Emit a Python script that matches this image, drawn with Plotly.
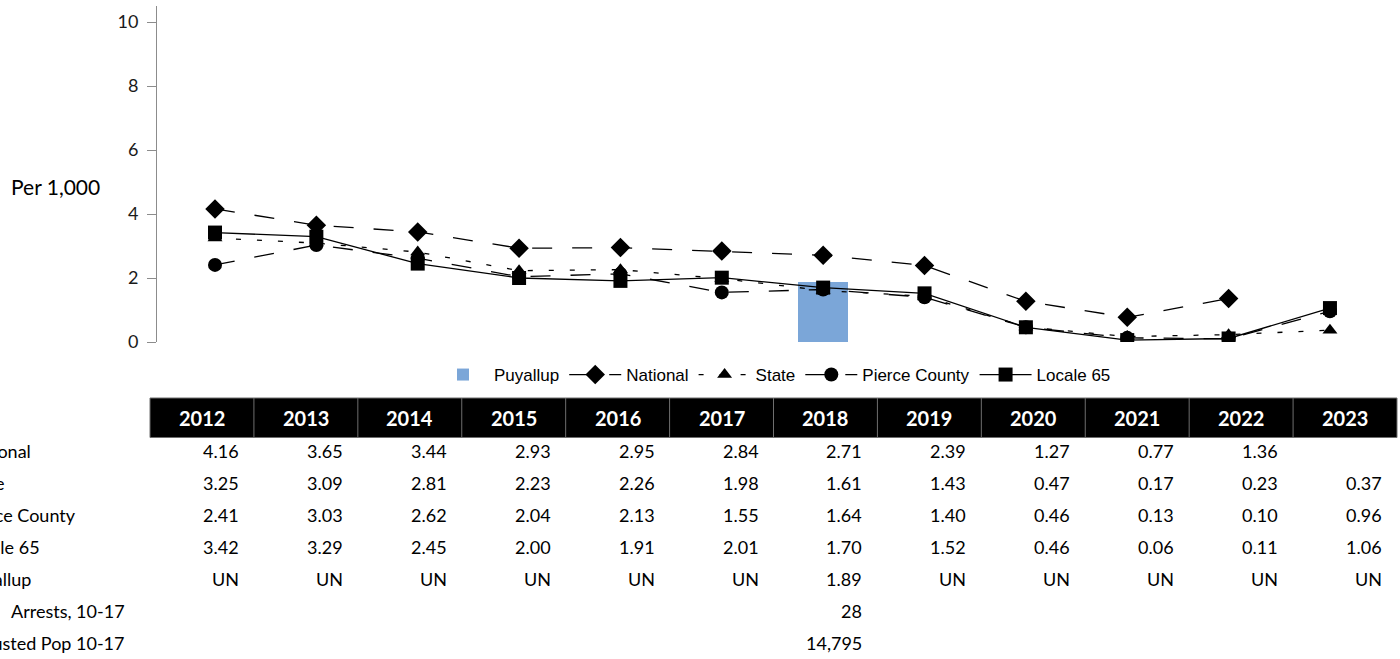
import plotly.graph_objects as go

# ---- data ---------------------------------------------------------------
years = [2012, 2013, 2014, 2015, 2016, 2017, 2018, 2019, 2020, 2021, 2022, 2023]
national = [4.16, 3.65, 3.44, 2.93, 2.95, 2.84, 2.71, 2.39, 1.27, 0.77, 1.36, None]
state = [3.25, 3.09, 2.81, 2.23, 2.26, 1.98, 1.61, 1.43, 0.47, 0.17, 0.23, 0.37]
pierce_county = [2.41, 3.03, 2.62, 2.04, 2.13, 1.55, 1.64, 1.40, 0.46, 0.13, 0.10, 0.96]
locale_65 = [3.42, 3.29, 2.45, 2.00, 1.91, 2.01, 1.70, 1.52, 0.46, 0.06, 0.11, 1.06]
puyallup = [None, None, None, None, None, None, 1.89, None, None, None, None, None]
arrests_10_17 = [None, None, None, None, None, None, 28, None, None, None, None, None]
adjusted_pop_10_17 = [None, None, None, None, None, None, 14795, None, None, None, None, None]

y_ticks = [0, 2, 4, 6, 8, 10]

# ---- geometry helpers (pixel -> paper) -----------------------------------
FIG_W, FIG_H = 1400, 659
L, R, T, B = 157, 5, 6, 317
PW = FIG_W - L - R
PH = FIG_H - T - B


def px_x(px):
    return (px - L) / PW


def px_y(py):
    return (T + PH - py) / PH


LABEL_FONT = "Lato, 'Open Sans', sans-serif"
BLACK = "#000000"

fig = go.Figure()

fig.add_trace(go.Bar(
    x=years, y=puyallup, name="Puyallup", width=0.49,
    marker=dict(color="#7ba6d8", line=dict(width=0)),
))

line_specs = [
    ("National", national, "diamond", 15, "20px,20px"),
    ("State", state, "triangle-up", 13, "5px,16px"),
    ("Pierce County", pierce_county, "circle", 14, "20px,20px"),
    ("Locale 65", locale_65, "square", 14, "solid"),
]
for name, vals, sym, size, dash in line_specs:
    fig.add_trace(go.Scatter(
        x=years, y=vals, name=name, mode="lines+markers",
        line=dict(color=BLACK, width=1.3, dash=dash),
        marker=dict(symbol=sym, size=size, color=BLACK, line=dict(width=0)),
        connectgaps=False,
    ))

# ---- axes -----------------------------------------------------------------
scale = 101.36  # px per year
fig.update_xaxes(
    range=[years[0] - 58 / scale, years[0] + (PW - 58) / scale],
    visible=False, showgrid=False, zeroline=False,
)
fig.update_yaxes(
    range=[0, 10.5], tickvals=y_ticks, ticktext=[str(v) for v in y_ticks],
    showline=True, linecolor="#8c8c8c", linewidth=1,
    ticks="outside", ticklen=9, tickcolor="#8c8c8c", tickwidth=1,
    ticklabelstandoff=5,
    showgrid=False, zeroline=False,
    tickfont=dict(family=LABEL_FONT, size=18, color="#1a1a1a"),
)

annotations = []
shapes = []

annotations.append(dict(
    text="Per 1,000", xref="paper", yref="paper", x=px_x(9), y=px_y(186),
    xanchor="left", yanchor="middle", showarrow=False,
    font=dict(family=LABEL_FONT, size=21, color=BLACK),
))

# ---- data table beneath the chart -----------------------------------------
tbl_left, tbl_right = 150, 1397
col_w = (tbl_right - tbl_left) / len(years)
hdr_top, hdr_bot = 398, 437.5
SEP = "#6e6e6e"

shapes.append(dict(
    type="rect", xref="paper", yref="paper",
    x0=px_x(tbl_left), x1=px_x(tbl_right), y0=px_y(hdr_bot), y1=px_y(hdr_top),
    fillcolor=BLACK, line=dict(color=SEP, width=1), layer="above",
))
for i in range(1, len(years)):
    xs = px_x(tbl_left + i * col_w)
    shapes.append(dict(
        type="line", xref="paper", yref="paper", x0=xs, x1=xs,
        y0=px_y(hdr_bot), y1=px_y(hdr_top),
        line=dict(color=SEP, width=1), layer="above",
    ))

for i, yr in enumerate(years):
    annotations.append(dict(
        text=f"<b>{yr}</b>", xref="paper", yref="paper",
        x=px_x(tbl_left + (i + 0.5) * col_w), y=px_y(418),
        xanchor="center", yanchor="middle", showarrow=False,
        font=dict(family=LABEL_FONT, size=20, color="#ffffff"),
    ))


def fmt_rate(v, missing=""):
    return missing if v is None else f"{v:.2f}"


def fmt_count(v):
    return "" if v is None else f"{v:,}"


rows = [
    ("National", [fmt_rate(v) for v in national], 451, "left"),
    ("State", [fmt_rate(v) for v in state], 483, "left"),
    ("Pierce County", [fmt_rate(v) for v in pierce_county], 515, "left"),
    ("Locale 65", [fmt_rate(v) for v in locale_65], 547, "left"),
    ("Puyallup", [fmt_rate(v, "UN") for v in puyallup], 579, "left"),
    ("Arrests, 10-17", [fmt_count(v) for v in arrests_10_17], 611, "right"),
    ("Adjusted Pop 10-17", [fmt_count(v) for v in adjusted_pop_10_17], 643, "right"),
]

for label, cells, ypx, align in rows:
    annotations.append(dict(
        text=label, xref="paper", yref="paper",
        x=px_x(-38) if align == "left" else px_x(127), y=px_y(ypx),
        xanchor=align, yanchor="middle", showarrow=False,
        font=dict(family=LABEL_FONT, size=18, color=BLACK),
    ))
    for i, cell in enumerate(cells):
        if not cell:
            continue
        annotations.append(dict(
            text=cell, xref="paper", yref="paper",
            x=px_x(tbl_left + (i + 1) * col_w - 13), y=px_y(ypx),
            xanchor="right", yanchor="middle", showarrow=False,
            font=dict(family=LABEL_FONT, size=18, color=BLACK),
        ))

fig.update_layout(
    width=FIG_W, height=FIG_H,
    margin=dict(l=L, r=R, t=T, b=B, autoexpand=False),
    paper_bgcolor="#ffffff", plot_bgcolor="#ffffff",
    showlegend=True,
    legend=dict(
        orientation="h", x=px_x(774), xanchor="center", y=px_y(375), yanchor="middle",
        font=dict(family="'Liberation Sans', Arial, sans-serif", size=17, color=BLACK),
        itemwidth=52, itemsizing="trace", traceorder="normal",
        bgcolor="rgba(0,0,0,0)",
    ),
    annotations=annotations, shapes=shapes,
    bargap=0,
)

fig.write_html("out.html")
